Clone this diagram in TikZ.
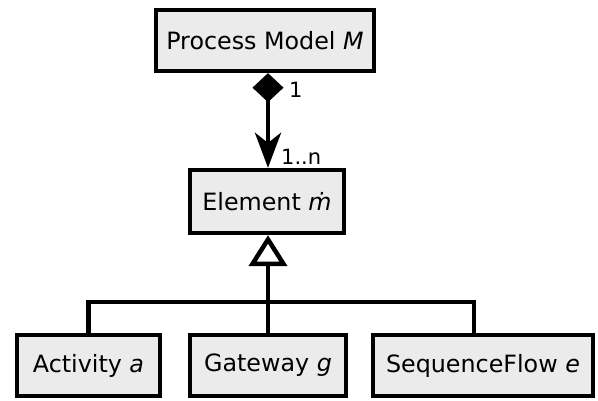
\documentclass[tikz,border=0pt]{standalone}
\usepackage{fontspec}
\setmainfont{DejaVu Sans}
\usetikzlibrary{arrows.meta,calc}
\definecolor{boxgray}{HTML}{EBEBEB}
\begin{document}
\begin{tikzpicture}[x=1pt,y=-1pt,
  box/.style={draw, line width=4.3pt, fill=boxgray, minimum height=61pt, inner sep=0pt,
    font=\fontsize{23.8}{28}\selectfont},
  conn/.style={line width=4.5pt},
  lbl/.style={font=\fontsize{21}{24}\selectfont, inner sep=0pt}]
\useasboundingbox (0,0) rectangle (598,401);
\node[box, minimum width=218pt] (pm) at (265,40.5) {Process Model \textit{M}};
\node[box, minimum width=154pt, minimum height=63pt] (el) at (267,201.5) {Element \textit{ṁ}};
\node[box, minimum width=143pt] (act) at (88.5,365.5) {Activity \textit{a}};
\node[box, minimum width=156pt] (gw) at (268,365.5) {Gateway \textit{g}};
\node[box, minimum width=220pt] (sf) at (483,365.5) {SequenceFlow \textit{e}};
\coordinate (ax) at (268,0);
\coordinate (j) at (268,302);
\coordinate (sfc) at ($(sf.north)+(-9,0)$);
\draw[conn, {Diamond[length=29pt,width=31pt]}-{Stealth[length=35pt,width=26pt,inset=10pt]}]
  (pm.south -| ax) -- (el.north -| ax);
\node[lbl, anchor=west] (one) at (289,90) {1};
\node[lbl, anchor=west] (many) at (281,157) {1..n};
\draw[conn, {Triangle[open,length=31pt,width=38pt]}-] (el.south -| ax) -- (j);
\draw[conn] (act.north) |- (j) -| (sfc);
\draw[conn] (j) -- (gw.north);
\end{tikzpicture}
\end{document}
